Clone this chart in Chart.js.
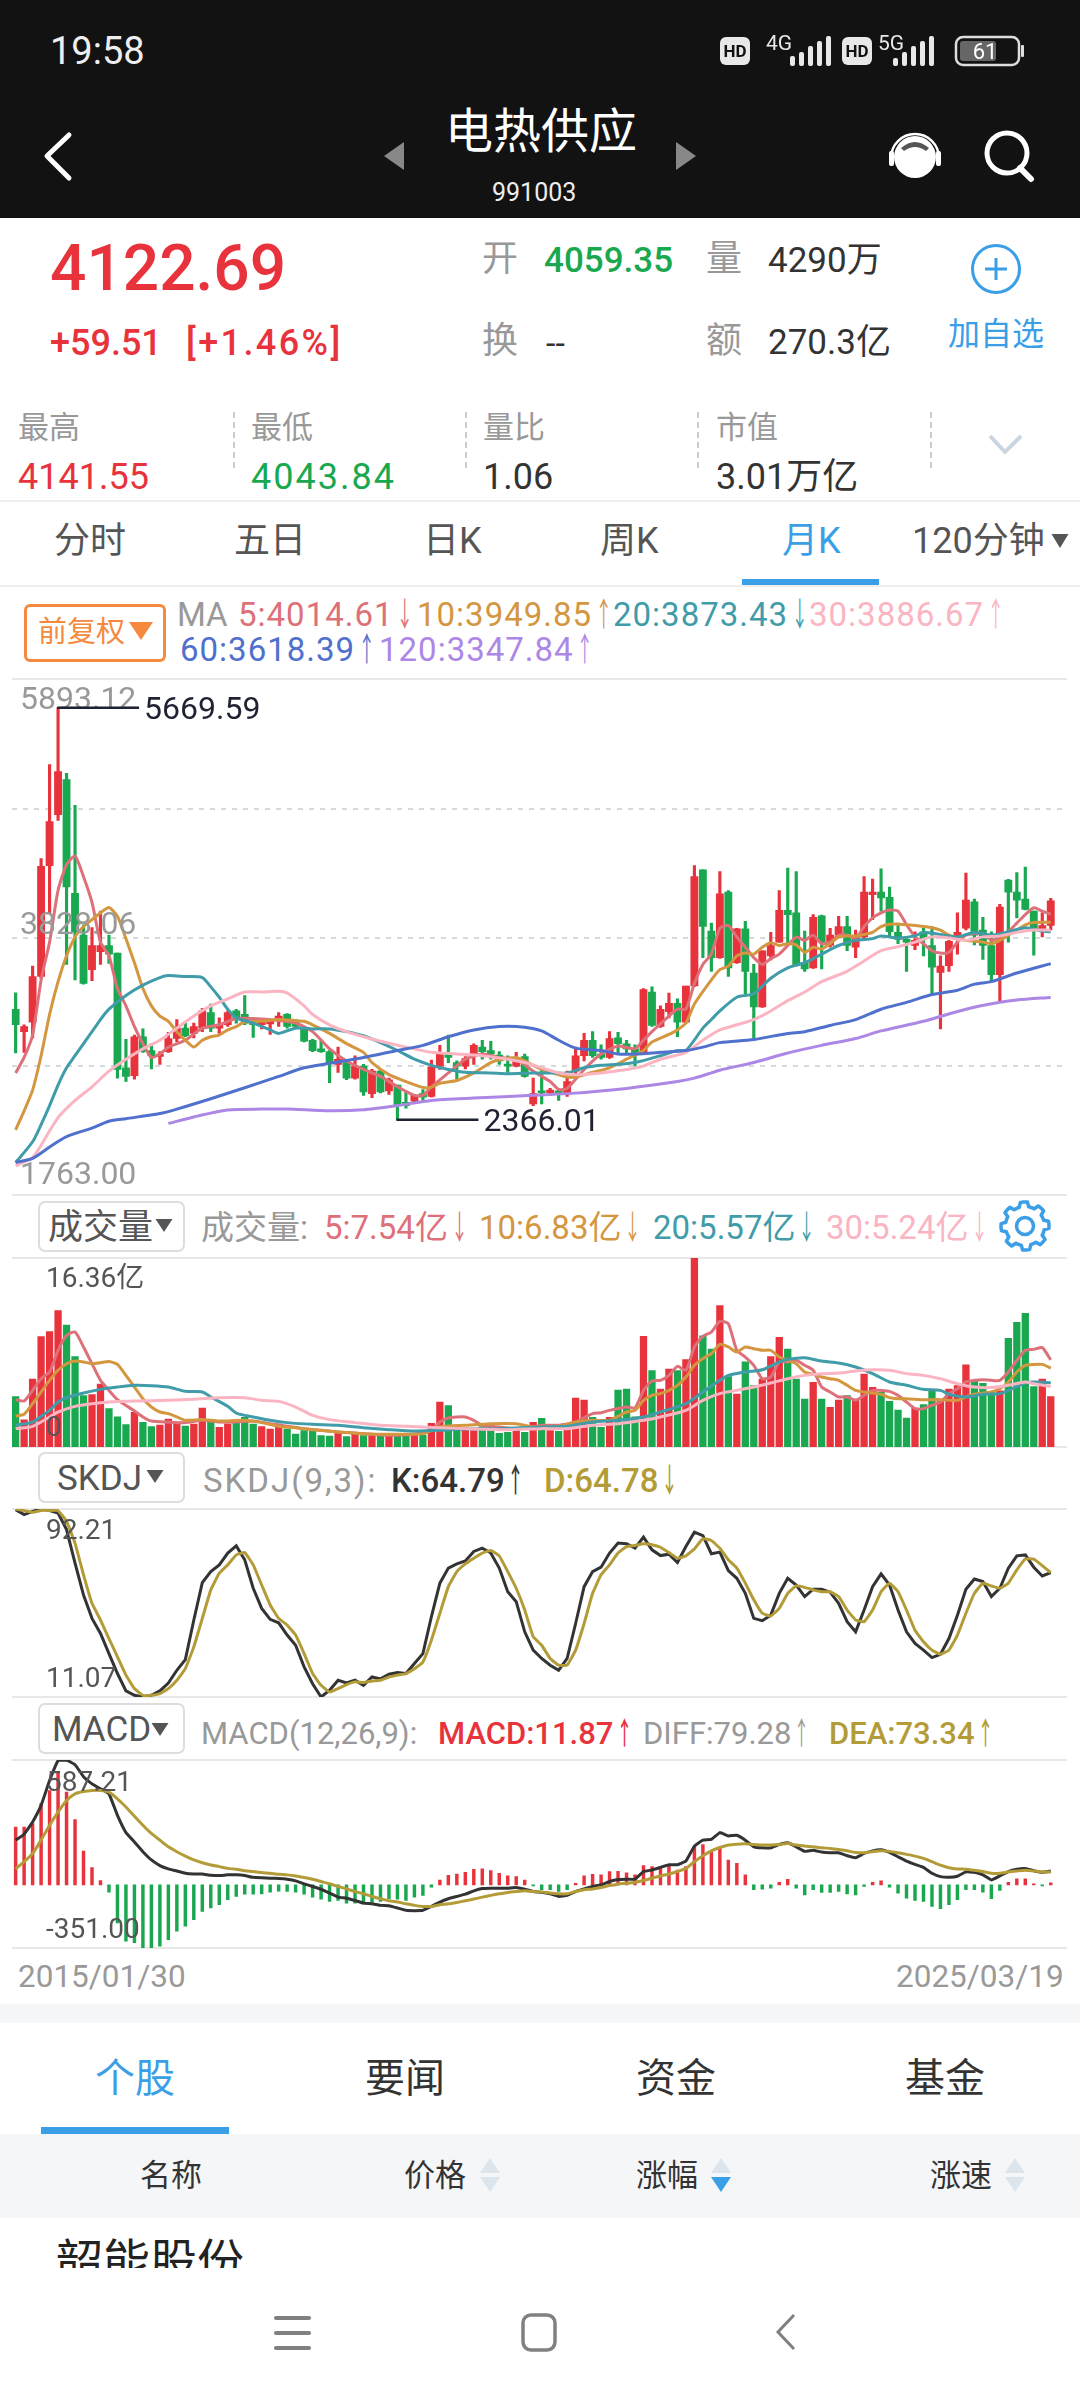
<!DOCTYPE html>
<html>
<head>
<meta charset="utf-8">
<title>电热供应</title>
<script src="https://cdn.jsdelivr.net/npm/chart.js@4"></script>
<style>
  html, body { margin: 0; padding: 0; background: #fff; }
  #page { position: relative; width: 1080px; height: 2400px; overflow: hidden; font-family: Roboto, "Noto Sans CJK SC", sans-serif; }
  #page div { position: absolute; white-space: nowrap; line-height: 1; }
  #page div span { display: inline-block; transform: scaleX(.5); margin: 0 -.16em; }
  canvas { position: absolute; left: 0; }
  svg { position: absolute; left: 0; top: 0; }
</style>
</head>
<body>
<div id="page"></div>
<script>
// meses del grafico, enero 2015 a marzo 2025
const months = [];
for (let y = 2015; y <= 2025; y++) {
  for (let m = 1; m <= 12; m++) {
    if (y === 2025 && m > 3) break;
    months.push(y + "/" + String(m).padStart(2, "0"));
  }
}

// velas
const opens = [3253,3073,3150,3515,4404,4813,5095,4183,3847,3570,
3714,3764,3703,2783,2719,3032,2921,2874,2913,3018,
3101,3059,3101,3225,3101,3128,3239,3211,3156,3128,
3134,3170,3211,3156,3101,3004,2935,2913,2811,2825,
2700,2797,2576,2756,2598,2645,2507,2515,2576,2554,
2797,2893,2825,2797,2885,2949,2921,2885,2811,2797,
2874,2493,2598,2581,2598,2581,2756,2880,3004,2893,
2866,3023,2976,2935,2907,3391,3114,3233,3300,3150,
3440,4371,3880,3667,4192,3626,3897,3543,3272,3681,
3791,4045,4026,3626,3584,4001,3764,3847,3916,3750,
3833,4172,4192,4150,3869,3813,3764,3874,3764,3548,
3603,3841,3902,4114,3888,3764,3529,4288,4192,4137,
4040,3888,3924];
const closes = [3128,3114,3515,4399,4758,5158,4233,3874,3460,3764,
3764,3695,2770,2714,3032,2913,2880,2893,3018,3101,
3040,3114,3239,3101,3128,3225,3170,3142,3128,3156,
3156,3197,3114,3114,2996,2921,2913,2825,2852,2700,
2797,2590,2756,2590,2687,2488,2480,2562,2548,2791,
2902,2866,2797,2858,2963,2913,2893,2838,2797,2866,
2714,2576,2581,2604,2581,2673,2880,3004,2880,2866,
3018,2976,2935,2907,3410,3123,3253,3300,3150,3438,
4316,3916,3667,4178,3584,3897,3557,3272,3722,3764,
4045,4012,3603,3576,3990,3791,3847,3916,3764,3833,
4192,4192,4145,3874,3813,3791,3805,3819,3590,3598,
3797,3869,4128,3847,3764,3529,4073,4192,4128,4054,
3888,3924,4122.69];
const highs = [3385,3128,3598,4460,5214,5669.59,5145,4888,3930,3907,
4040,3847,3703,3012,3046,3095,2976,2913,3068,3170,
3150,3142,3261,3294,3184,3239,3253,3363,3170,3170,
3170,3225,3217,3170,3114,3012,3004,2921,2949,2838,
2880,2811,2770,2764,2700,2645,2590,2570,2609,2846,
2963,3046,2838,2874,2976,3004,2996,2913,2880,2907,
2893,2700,2783,2618,2604,2756,2949,3059,3073,2968,
3073,3068,3004,2968,3418,3432,3280,3382,3336,3438,
4404,4371,3943,4357,4205,3902,3957,3612,3722,3869,
4205,4385,4357,3880,4012,4007,3902,3998,3998,3888,
4316,4297,4379,4233,3943,3819,3874,3902,3916,3681,
3805,4026,4344,4136,3990,3874,4095,4294,4349,4393,
4040,4026,4141.55];
const lows = [2902,2907,3023,3500,4026,4766,3612,3488,3454,3482,
3612,3620,2700,2673,2692,2907,2775,2811,2907,2990,
3032,3023,3073,3073,3059,3114,3142,3128,3026,3095,
3051,3114,3101,3101,2990,2913,2907,2664,2747,2687,
2692,2562,2543,2581,2570,2366.01,2460,2507,2521,2548,
2770,2825,2692,2775,2811,2852,2852,2811,2747,2791,
2708,2480,2493,2562,2521,2554,2714,2838,2866,2852,
2858,2893,2893,2797,2900,3114,3106,3184,3032,3142,
3435,3667,3557,3660,3515,3620,3377,3012,3268,3648,
3788,3764,3600,3557,3580,3576,3750,3833,3722,3667,
3819,3971,4040,3833,3778,3557,3731,3681,3377,3095,
3557,3695,3888,3769,3653,3474,3322,3791,3985,4050,
3686,3833,3888];

const ma5Idx = [0,1,2,3,4,5,6,7,8,9,10,11,12,13,14,15,16,17,18,20,22,24,26,28,31,33,35,37,39,41,43,45,47,48,49,51,53,55,57,59,61,63,64,65,67,69,71,73,74,75,77,78,79,80,81,82,83,84,85,86,87,88,89,90,91,92,93,94,95,96,97,98,99,100,101,102,103,104,105,106,107,108,109,110,111,112,113,114,115,116,117,118,119,120,121,122];
const ma5Vals = [2742,2866,3046,3488,3791,4206,4413,4482,4316,4109,3791,3681,3419,3280,3114,2977,2866,2894,2949,3004,3101,3128,3178,3178,3162,3142,3073,2935,2838,2770,2714,2631,2562,2562,2631,2742,2852,2894,2866,2852,2756,2673,2609,2618,2770,2894,2957,2935,3004,3073,3198,3253,3253,3460,3612,3695,3902,3924,3833,3750,3667,3612,3659,3695,3764,3833,3805,3847,3778,3791,3847,3847,3819,3916,3985,4026,4048,4040,3930,3833,3778,3722,3703,3709,3791,3847,3860,3860,3805,3833,3874,3943,4012,4067,4040,4014.61];
const ma10Idx = [0,1,2,3,4,5,6,7,8,9,10,11,12,13,14,15,16,17,18,19,20,21,22,23,24,25,26,27,29,31,33,34,35,37,39,41,42,44,46,48,49,50,52,54,56,57,59,60,62,64,65,66,68,70,72,74,75,77,78,79,80,82,83,84,85,86,87,88,89,90,91,92,93,94,95,96,97,98,99,100,101,102,103,105,107,108,109,110,112,114,115,116,117,118,119,120,122];
const ma10Vals = [2286,2438,2604,2880,3211,3474,3681,3833,3916,3971,4026,4068,3998,3819,3626,3419,3280,3198,3156,3073,3004,2949,3004,3032,3046,3087,3114,3150,3156,3170,3162,3156,3128,3059,2977,2907,2825,2728,2673,2626,2626,2659,2681,2742,2825,2847,2866,2838,2770,2728,2709,2709,2747,2783,2852,2922,2990,3051,3087,3142,3294,3488,3570,3598,3681,3703,3695,3750,3786,3764,3778,3769,3709,3750,3736,3778,3833,3841,3841,3852,3869,3916,3935,3930,3916,3907,3888,3847,3805,3791,3778,3805,3847,3888,3930,3949,3949.85];
const ma20Idx = [0,2,3,4,5,6,7,8,9,10,11,13,15,17,18,20,22,23,24,25,26,28,30,31,33,35,37,39,41,43,45,47,49,51,53,56,58,61,63,65,67,69,71,73,76,78,79,81,82,83,85,87,89,91,93,95,97,99,101,102,104,106,107,109,111,113,115,117,119,121,122];
const ma20Vals = [2024,2190,2328,2480,2645,2783,2880,2977,3073,3170,3253,3363,3446,3507,3523,3515,3507,3432,3349,3253,3184,3142,3087,3059,3101,3095,3095,3073,3040,2985,2922,2852,2803,2770,2747,2742,2736,2742,2742,2742,2783,2803,2811,2825,2880,2922,2922,3101,3170,3239,3349,3377,3501,3584,3626,3695,3764,3805,3819,3841,3825,3841,3869,3852,3833,3869,3847,3874,3907,3880,3873.43];
const ma30Idx = [0,2,3,5,7,9,11,13,15,17,19,21,23,25,27,29,31,32,34,35,37,39,41,43,46,49,52,55,58,60,62,64,66,69,72,74,76,79,81,83,85,87,89,91,93,95,98,100,102,104,106,108,110,112,114,116,118,120,122];
const ma30Vals = [1996,2065,2162,2383,2521,2631,2756,2852,2935,3004,3101,3198,3280,3336,3391,3391,3397,3383,3280,3211,3128,3073,3032,2996,2949,2907,2894,2880,2852,2825,2783,2742,2728,2742,2770,2797,2852,2907,3004,3087,3128,3170,3239,3322,3391,3474,3557,3640,3722,3755,3791,3833,3825,3805,3833,3841,3869,3888,3886.67];
const ma60Idx = [0,2,4,6,9,11,13,17,19,23,27,31,34,37,41,45,48,51,54,57,60,62,64,66,69,71,73,76,79,81,83,87,91,93,96,99,102,105,108,111,113,115,118,122];
const ma60Vals = [2024,2057,2148,2231,2300,2355,2375,2416,2452,2535,2623,2714,2783,2819,2866,2922,2963,3032,3087,3114,3109,3079,3004,2941,2922,2894,2894,2907,2922,2949,2985,3010,3059,3073,3123,3170,3253,3308,3371,3405,3454,3474,3543,3618.39];
const ma120Idx = [18,21,25,29,32,37,41,45,49,54,61,65,72,78,80,83,87,91,95,99,102,107,112,116,118,122];
const ma120Vals = [2336,2389,2444,2452,2452,2438,2446,2480,2521,2540,2562,2576,2618,2673,2700,2764,2825,2902,2963,3018,3079,3156,3253,3308,3327,3347.84];

// volumen en 亿
const volumes = [4.39,2.37,5.91,9.58,10.01,11.83,10.59,7.85,4.47,4.56,
5.48,3.35,2.65,1.96,3.03,2.16,1.79,1.93,2.45,2.16,
1.85,2.02,3.40,2.16,1.73,2.02,2.08,2.60,2.02,1.79,
1.59,2.02,1.59,1.15,1.44,1.38,1.01,0.98,1.30,0.92,
1.15,1.01,1.07,1.01,0.98,1.15,1.01,1.07,1.07,2.08,
3.92,3.61,1.59,1.67,1.44,1.79,1.88,1.21,1.30,1.59,
1.30,2.16,2.51,1.44,1.38,1.50,4.27,4.10,2.60,1.73,
2.60,4.96,5.05,2.65,9.61,6.64,5.05,6.78,6.64,7.59,
16.36,9.66,8.51,12.26,6.12,4.62,7.41,5.34,5.91,7.85,
9.52,8.51,5.91,4.18,5.63,4.18,3.46,4.10,4.47,4.18,
6.35,5.19,4.76,3.98,3.23,2.54,3.40,3.69,4.90,4.04,
5.05,5.34,7.15,5.77,5.54,4.76,4.90,9.43,10.82,11.60,
5.25,5.91,4.39];
const volMa5Idx = [0,1,2,3,4,5,6,7,8,9,10,11,12,14,15,16,18,20,22,24,26,28,30,32,34,36,38,40,42,44,46,48,49,50,51,52,53,54,55,57,59,61,62,64,66,67,68,69,70,72,73,74,75,76,77,78,79,80,81,82,83,84,85,86,87,88,89,90,91,92,93,94,95,96,97,98,99,100,101,102,103,104,105,106,107,108,109,110,111,112,113,114,115,116,117,118,119,120,121,122];
const volMa5Vals = [4.10,3.98,4.90,5.91,6.49,8.37,9.66,9.95,8.66,7.21,5.77,4.90,4.10,3.12,2.60,2.25,2.16,2.11,2.31,2.16,2.16,2.25,2.02,1.79,1.59,1.44,1.30,1.21,1.10,1.01,1.07,1.21,1.44,2.16,2.51,2.60,2.60,2.31,1.88,1.73,1.59,1.73,1.88,1.88,2.16,2.54,2.89,2.97,3.17,3.46,3.40,4.90,5.71,5.77,6.20,6.98,6.64,8.66,9.58,9.95,10.88,10.67,8.37,7.79,7.07,5.91,6.06,7.36,7.36,7.50,7.07,6.64,5.19,4.76,4.33,4.33,4.04,4.47,4.90,4.90,4.82,4.47,3.89,3.32,3.32,3.61,3.89,4.62,5.05,5.63,5.77,5.83,5.77,5.77,6.49,7.50,8.37,8.45,8.60,7.54];
const volMa10Idx = [0,1,2,3,4,5,6,7,8,9,10,11,12,13,14,15,16,17,18,19,20,22,24,27,29,31,33,35,38,41,44,48,50,53,56,59,61,64,66,68,70,72,73,74,75,76,77,78,79,80,81,82,83,84,85,86,87,88,89,90,91,92,93,94,95,96,97,98,99,100,101,102,103,104,105,107,109,111,112,113,115,116,117,118,119,120,121,122];
const volMa10Vals = [2.68,2.83,3.75,4.76,5.77,6.64,7.21,7.44,7.36,7.21,7.30,7.41,7.15,6.20,5.19,4.18,3.46,3.03,2.89,2.60,2.31,2.37,2.25,2.31,2.11,1.79,1.67,1.50,1.30,1.15,1.10,1.15,1.73,1.88,2.02,2.02,1.73,1.79,2.16,2.31,2.31,3.03,3.17,4.04,4.47,4.62,4.90,5.34,6.06,7.07,7.65,8.08,8.89,8.66,8.22,8.66,8.51,8.37,8.37,7.79,7.50,7.21,6.49,6.29,6.06,5.91,5.77,5.34,4.90,4.76,4.67,4.56,4.27,4.18,4.18,4.10,4.10,4.04,4.33,4.56,4.76,5.05,5.63,6.49,7.07,7.15,7.15,6.83];
const volMa20Idx = [0,2,3,4,5,6,8,10,12,14,16,18,20,22,23,25,26,28,30,32,35,38,41,44,47,50,53,57,62,65,68,71,74,76,79,81,83,84,86,88,90,91,93,95,97,99,101,103,105,107,109,110,112,114,116,117,119,120,122];
const volMa20Vals = [1.88,2.16,2.65,3.17,3.89,4.27,4.67,4.99,5.19,5.34,5.31,5.19,4.82,4.76,4.33,3.52,2.94,2.60,2.31,2.11,1.96,1.88,1.67,1.50,1.38,1.44,1.56,1.59,1.73,1.79,2.16,2.31,2.60,3.03,3.75,4.76,5.77,6.20,6.49,6.69,7.36,7.59,7.73,7.44,7.27,6.92,6.35,5.63,5.34,4.99,4.90,4.56,4.33,4.56,4.62,4.90,5.54,5.63,5.57];
const volMa30Idx = [0,2,4,5,7,9,11,14,18,21,24,27,29,31,33,35,37,40,43,46,50,54,58,62,65,68,71,74,76,79,81,83,85,87,89,91,93,95,97,99,101,103,105,107,109,111,113,115,117,119,120,122];
const volMa30Vals = [1.59,1.79,2.60,3.03,3.52,3.75,3.89,3.98,4.04,4.13,4.27,4.27,4.04,3.95,3.46,2.74,2.37,2.11,1.88,1.79,1.67,1.56,1.50,1.59,1.59,1.88,2.02,2.31,2.60,3.17,4.04,4.62,4.90,5.19,5.54,5.91,6.20,6.35,6.40,6.58,6.69,6.64,6.35,6.20,5.91,5.48,5.19,5.14,5.34,5.63,5.48,5.24];

// SKDJ
const kVals = [91.9,89.8,91.2,92.2,91.5,90.5,83.3,68.8,55.1,45.0,38.5,29.8,21.2,13.7,11.8,11.07,11.8,13.7,17.1,22.6,27.2,44.3,60.4,65.2,68.1,73.2,76.3,70.3,58.0,49.3,44.6,43.1,37.8,33.4,24.1,16.8,11.07,14.0,18.3,17.1,18.3,16.1,19.7,18.9,20.9,21.6,21.2,25.5,29.8,45.7,60.2,66.7,68.5,69.8,73.9,75.3,73.2,66.7,56.5,52.2,39.2,31.3,27.7,24.8,22.6,27.7,42.8,58.7,65.2,67.1,73.2,77.5,77.2,75.3,80.1,74.6,72.1,72.7,69.1,76.0,82.2,80.7,72.9,73.6,65.6,62.3,55.8,45.0,44.0,46.4,55.8,62.3,59.4,54.4,57.6,57.6,56.3,51.5,43.6,39.2,48.6,58.7,64.2,59.4,48.6,39.2,34.2,31.3,28.1,29.5,36.3,46.4,57.6,62.0,60.9,54.4,58.0,66.7,72.0,72.4,67.1,63.3,64.79];
const dVals = [92.2,91.5,90.8,91.6,91.6,91.5,86.9,77.5,63.8,51.5,44.3,36.3,28.4,20.5,14.7,11.8,11.8,12.5,14.7,18.3,23.3,32.7,45.0,57.3,64.5,68.1,72.4,73.4,68.1,59.4,50.8,45.0,42.1,37.8,29.8,21.2,16.1,13.2,14.7,16.4,17.6,17.3,18.0,18.3,19.7,20.5,21.2,23.3,26.2,35.6,47.2,58.7,65.2,68.5,71.0,73.2,74.3,72.0,65.2,58.0,48.6,37.1,33.4,27.7,24.8,24.8,31.3,42.8,55.8,63.8,68.1,73.2,76.0,76.5,77.2,76.8,75.7,73.4,71.0,72.0,75.0,79.4,78.6,75.3,70.3,66.7,60.2,53.0,47.2,46.0,49.3,55.8,59.0,58.4,57.3,56.5,56.5,54.4,48.6,44.3,43.6,48.6,56.5,60.2,56.5,48.6,39.9,34.9,31.3,29.5,31.3,37.8,47.2,55.8,60.2,59.0,58.0,60.2,65.9,70.6,70.6,67.8,64.78];

// MACD
const macdHist = [330,330,349,463,538,642,529,372,193,98,25,-42,-217,-321,-330,-359,-359,-349,-312,-264,-236,-198,-151,-132,-113,-85,-66,-53,-53,-51,-42,-36,-38,-42,-53,-70,-81,-94,-89,-104,-104,-108,-100,-94,-79,-81,-89,-70,-60,-13,28,55,62,72,89,91,81,66,51,47,28,-3,-28,-28,-38,-28,9,51,60,57,76,77,68,57,110,104,104,110,85,104,217,230,189,217,142,123,57,-28,-25,-19,15,32,-19,-57,-28,-43,-43,-38,-51,-57,-9,15,23,-13,-47,-76,-89,-94,-123,-136,-113,-85,-28,-28,-42,-79,-32,15,34,34,2,-6,11.87];
const diffVals = [255,289,359,453,595,708,712,685,617,576,548,519,396,298,245,189,142,110,91,79,66,62,62,55,53,57,57,53,43,40,38,36,32,23,6,-9,-25,-47,-70,-76,-89,-104,-108,-117,-119,-132,-145,-147,-145,-123,-98,-79,-66,-53,-34,-21,-19,-19,-19,-15,-25,-38,-42,-51,-66,-60,-38,-23,-9,0,19,30,32,32,76,85,100,115,115,136,221,255,259,298,279,283,255,217,211,211,230,240,217,191,198,187,183,183,166,155,179,194,200,185,160,136,117,100,66,47,43,49,74,72,57,28,51,76,89,93,81,72,79.28];
const deaVals = [91,132,179,255,340,415,481,519,532,538,538,529,491,444,391,340,293,255,217,189,164,142,126,113,104,94,89,81,76,70,66,60,57,51,42,32,19,6,-9,-23,-38,-51,-66,-79,-91,-98,-108,-117,-123,-123,-113,-108,-100,-91,-81,-70,-60,-51,-43,-38,-34,-38,-40,-47,-51,-51,-38,-28,-23,-15,-4,4,9,15,25,38,51,62,76,94,132,166,194,213,227,232,234,230,227,227,230,236,227,221,217,211,208,202,194,185,183,189,194,191,183,174,164,151,132,113,98,91,89,83,76,66,66,74,79,83,79,74,73.34];

// rotulos de los ejes
const priceTicks = ["5893.12", "3828.06", "1763.00"];
const volTicks = ["16.36亿", "0"];
const skdjTicks = ["92.21", "11.07"];
const macdTicks = ["587.21", "-351.00"];
const priceMax = 5893.12, priceMin = 1763;

const RED = "#e8323c", GREEN = "#19a850", BLUE = "#3a9fe6", GOLD = "#b39c38";
const C5 = "#dd7078", C10 = "#d4963f", C20 = "#3f9ca8", C30 = "#fbb4c1", C60 = "#4f70cc", C120 = "#ad87e6";
const FONT = 'Roboto, "Noto Sans CJK SC", sans-serif';

const page = document.getElementById("page");

function txt(x, y, s, size, color, extra) {
  const d = document.createElement("div");
  // las flechas son mas angostas que en la fuente
  d.innerHTML = s.replace(/[↓↑]/g, (a) => "<span>" + a + "</span>");
  d.style.cssText = `left:${x}px;top:${y}px;font-size:${size}px;color:${color};transform:translateY(-50%);` + (extra || "");
  page.appendChild(d);
  return d;
}
function box(x, y, w, h, color, extra) {
  const d = document.createElement("div");
  d.style.cssText = `left:${x}px;top:${y}px;width:${w}px;height:${h}px;background:${color};` + (extra || "");
  page.appendChild(d);
  return d;
}

// cabecera
box(0, 0, 1080, 218, "#121212");
txt(50, 51, "19:58", 38, "#eee");
txt(445, 132, "电热供应", 48, "#fff");
txt(492, 192, "991003", 25, "#eee");
txt(50, 269, "4122.69", 64, RED, "font-weight:500;");
txt(50, 343, "+59.51", 36, RED, "font-weight:500;");
txt(186, 343, "[+1.46%]", 36, RED, "font-weight:500;letter-spacing:2.4px;");
txt(482, 259, "开", 36, "#999");
txt(544, 260, "4059.35", 35, GREEN, "font-weight:500;");
txt(706, 259, "量", 36, "#999");
txt(768, 260, "4290万", 35, "#333");
txt(482, 341, "换", 36, "#999");
txt(546, 343, "--", 34, "#333");
txt(706, 341, "额", 36, "#999");
txt(768, 342, "270.3亿", 35, "#333");
txt(948, 334, "加自选", 32, BLUE);
[["最高", 18, "4141.55", RED, 0], ["最低", 251, "4043.84", GREEN, 2], ["量比", 483, "1.06", "#333", 0], ["市值", 716, "3.01万亿", "#333", 0]].forEach((c) => {
  txt(c[1], 427, c[0], 31, "#999");
  txt(c[1], 477, c[2], 36, c[3], "letter-spacing:" + c[4] + "px;");
});
[233, 465, 697, 930].forEach((x) => box(x, 412, 0, 56, "transparent", "border-left:2px dashed #ccc;"));
box(0, 500, 1080, 2, "#eee");
[["分时", 54], ["五日", 234], ["日K", 423], ["周K", 600], ["120分钟", 912]].forEach((c) => txt(c[1], 541, c[0], 36, "#555"));
txt(782, 541, "月K", 36, BLUE);
box(742, 579, 137, 6, BLUE);
box(0, 585, 1080, 2, "#eee");

// leyenda MA
const LEGEND = "letter-spacing:1px;";
box(24, 604, 136, 52, "#fff", "border:3px solid #f5893d;border-radius:6px;");
txt(38, 632, "前复权", 29, "#f5893d");
txt(177, 614, "MA", 33, "#999");
txt(238, 614, "5:4014.61↓", 33, C5, LEGEND);
txt(417, 614, "10:3949.85↑", 33, C10, LEGEND);
txt(613, 614, "20:3873.43↓", 33, C20, LEGEND);
txt(809, 614, "30:3886.67↑", 33, C30, LEGEND);
txt(180, 649, "60:3618.39↑", 33, C60, LEGEND);
txt(379, 649, "120:3347.84↑", 33, C120, LEGEND);

// separadores
[679, 1195, 1258, 1447, 1509, 1697, 1760, 1948].forEach((y) => box(12, y - 1, 1055, 2, "#e8e8e8"));

// filas de indicadores
function selector(y, label, tx) {
  box(38, y, 143, 47, "#fff", "border:2.5px solid #ddd;border-radius:7px;");
  txt(tx, y + 26, label, 35, "#555");
}
selector(1201, "成交量", 48);
txt(201, 1227, "成交量:", 33, "#999");
txt(324, 1227, "5:7.54亿↓", 33, C5);
txt(479, 1227, "10:6.83亿↓", 33, C10);
txt(653, 1227, "20:5.57亿↓", 33, C20);
txt(826, 1227, "30:5.24亿↓", 33, C30);
selector(1452, "SKDJ", 57);
txt(203, 1480, "SKDJ(9,3):", 33, "#999", "letter-spacing:2px;");
txt(391, 1480, "K:64.79↑", 33, "#333", "font-weight:500;");
txt(544, 1480, "D:64.78↓", 33, GOLD, "font-weight:500;");
selector(1703, "MACD", 52);
txt(201, 1733, "MACD(12,26,9):", 31, "#999");
txt(438, 1733, "MACD:11.87↑", 31, RED, "font-weight:500;");
txt(643, 1733, "DIFF:79.28↑", 31, "#999");
txt(829, 1733, "DEA:73.34↑", 31, GOLD, "font-weight:500;");
txt(18, 1977, "2015/01/30", 31.5, "#999");
txt(896, 1977, "2025/03/19", 31.5, "#999");

// parte de abajo
box(0, 2004, 1080, 19, "#f5f6f7");
txt(95, 2079, "个股", 40, BLUE);
txt(365, 2079, "要闻", 40, "#333");
txt(636, 2079, "资金", 40, "#333");
txt(905, 2079, "基金", 40, "#333");
box(0, 2134, 1080, 84, "#f5f6f7");
box(41, 2127, 188, 7, BLUE);
[["名称", 140], ["价格", 404], ["涨幅", 636], ["涨速", 930]].forEach((c) => txt(c[1], 2175, c[0], 31, "#333"));
const clip = box(56, 2238, 220, 30, "#fff", "overflow:hidden;");
const stock = document.createElement("div");
stock.textContent = "韶能股份";
stock.style.cssText = "left:0;top:0;font-size:47px;color:#222;";
clip.appendChild(stock);

// iconos
function triangle(cx, top, w, h, fill, up) {
  const y2 = up ? top + h : top;
  const y1 = up ? top : top + h;
  return `<polygon points="${cx},${y1} ${cx - w / 2},${y2} ${cx + w / 2},${y2}" fill="${fill}"/>`;
}
function signal(x0, bars) {
  let s = "";
  bars.forEach((h, n) => { s += `<rect x="${x0 + n * 9}" y="${66 - h}" width="5" height="${h}" rx="2" fill="#e8e8e8"/>`; });
  return s;
}
let gearPts = "";
for (let n = 0; n < 64; n++) {
  const a = (n / 64) * Math.PI * 2;
  const r = (n + 2) % 8 < 4 ? 24 : 19.5;
  gearPts += (1025 + r * Math.cos(a)).toFixed(1) + "," + (1226 + r * Math.sin(a)).toFixed(1) + " ";
}
const icons = `
<svg width="1080" height="2400" style="z-index:5;">
  <rect x="720" y="37" width="30" height="28" rx="6" fill="#e8e8e8"/>
  <text x="735" y="57" font-family="Roboto" font-weight="700" font-size="17" fill="#121212" text-anchor="middle">HD</text>
  <text x="766" y="50" font-family="Roboto" font-size="21" fill="#e8e8e8">4G</text>
  ${signal(790, [10, 14, 20, 25, 30])}
  <rect x="842" y="37" width="30" height="28" rx="6" fill="#e8e8e8"/>
  <text x="857" y="57" font-family="Roboto" font-weight="700" font-size="17" fill="#121212" text-anchor="middle">HD</text>
  <text x="878" y="50" font-family="Roboto" font-size="21" fill="#e8e8e8">5G</text>
  ${signal(893, [8, 14, 20, 25, 30])}
  <rect x="956" y="37" width="63" height="28" rx="7" fill="none" stroke="#ddd" stroke-width="2.5"/>
  <rect x="960" y="41" width="36" height="20" rx="3" fill="#666"/>
  <rect x="1021" y="45" width="3" height="12" rx="1" fill="#ddd"/>
  <text x="985" y="59" font-family="Roboto" font-size="22" fill="#fff" text-anchor="middle">61</text>
  <polyline points="69,135 47,156 69,178" fill="none" stroke="#fff" stroke-width="5" stroke-linecap="round" stroke-linejoin="round"/>
  <polygon points="404,142 404,170 384,156" fill="#888"/>
  <polygon points="676,142 676,170 696,156" fill="#888"/>
  <circle cx="915" cy="157" r="21" fill="#fff"/>
  <path d="M901 148 Q915 136 929 148 L926 151 Q915 143 904 151 Z" fill="#555"/>
  <path d="M891 158 A24 24 0 0 1 939 158" fill="none" stroke="#fff" stroke-width="2.5"/>
  <rect x="889" y="151" width="5" height="15" rx="2" fill="#fff"/>
  <rect x="936" y="151" width="5" height="15" rx="2" fill="#fff"/>
  <circle cx="1007" cy="153" r="20" fill="none" stroke="#fff" stroke-width="5"/>
  <line x1="1020" y1="168" x2="1031" y2="179" stroke="#fff" stroke-width="6" stroke-linecap="round"/>
  <circle cx="996" cy="269" r="23.5" fill="none" stroke="${BLUE}" stroke-width="3"/>
  <line x1="985" y1="269" x2="1007" y2="269" stroke="${BLUE}" stroke-width="3"/>
  <line x1="996" y1="258" x2="996" y2="280" stroke="${BLUE}" stroke-width="3"/>
  <polyline points="990,436 1005,452 1021,436" fill="none" stroke="#cbd5df" stroke-width="4"/>
  ${triangle(1060, 534, 17, 14, "#555", false)}
  ${triangle(141, 622, 24, 18, "#f5893d", false)}
  ${triangle(164, 1219, 17, 13, "#555", false)}
  ${triangle(155, 1470, 17, 13, "#555", false)}
  ${triangle(160, 1723, 17, 13, "#555", false)}
  <polygon points="${gearPts}" fill="none" stroke="${BLUE}" stroke-width="3.5" stroke-linejoin="round"/>
  <circle cx="1025" cy="1226" r="8.5" fill="none" stroke="${BLUE}" stroke-width="3.5"/>
  ${triangle(490, 2158, 20, 15, "#dde5ec", true)}${triangle(490, 2177, 20, 15, "#dde5ec", false)}
  ${triangle(721, 2158, 20, 15, "#dde5ec", true)}${triangle(721, 2177, 20, 15, BLUE, false)}
  ${triangle(1015, 2158, 20, 15, "#dde5ec", true)}${triangle(1015, 2177, 20, 15, "#dde5ec", false)}
  <rect x="274" y="2316" width="37" height="4" rx="2" fill="#808080"/>
  <rect x="274" y="2331" width="37" height="4" rx="2" fill="#808080"/>
  <rect x="274" y="2346" width="37" height="4" rx="2" fill="#808080"/>
  <rect x="523" y="2315" width="32" height="35" rx="8" fill="none" stroke="#808080" stroke-width="3.5"/>
  <polyline points="794,2315 778,2332 794,2349" fill="none" stroke="#808080" stroke-width="3"/>
</svg>`;
page.insertAdjacentHTML("beforeend", icons);

// arma una serie con huecos a partir de los meses leidos
function sparse(idx, vals) {
  const a = new Array(months.length).fill(null);
  idx.forEach((k, n) => { a[k] = vals[n]; });
  return a;
}
function lineDs(data, color, tension) {
  return { type: "line", data, borderColor: color, borderWidth: 3, pointRadius: 0, spanGaps: true, tension: tension, order: 1, clip: false };
}

// plugin: rejilla punteada, rotulos del eje y marcas de maximo y minimo
const panelText = {
  id: "panelText",
  beforeDatasetsDraw(chart, args, opts) {
    const ctx = chart.ctx, y = chart.scales.y;
    ctx.save();
    ctx.strokeStyle = "#d5dadd";
    ctx.lineWidth = 2;
    ctx.setLineDash([5, 6]);
    (opts.grid || []).forEach((v) => {
      const py = Math.round(y.getPixelForValue(v));
      ctx.beginPath();
      ctx.moveTo(12, py);
      ctx.lineTo(1065, py);
      ctx.stroke();
    });
    ctx.restore();
  },
  afterDatasetsDraw(chart, args, opts) {
    const ctx = chart.ctx, x = chart.scales.x, y = chart.scales.y;
    ctx.save();
    ctx.textBaseline = "middle";
    ctx.font = opts.font + " " + FONT;
    ctx.fillStyle = opts.color;
    (opts.labels || []).forEach((l) => ctx.fillText(l.text, opts.x, y.getPixelForValue(l.value) + l.dy));
    (opts.tags || []).forEach((t) => {
      const px = x.getPixelForValue(t.index), py = y.getPixelForValue(t.value);
      ctx.strokeStyle = "#1f2233";
      ctx.fillStyle = "#1f2233";
      ctx.lineWidth = 2.5;
      ctx.beginPath();
      ctx.moveTo(px - 1, py);
      ctx.lineTo(px + 81, py);
      ctx.stroke();
      ctx.fillText(t.text, px + 86, py + 3);
    });
    ctx.restore();
  },
};

function panel(top, height, yMin, yMax, datasets, text) {
  const c = document.createElement("canvas");
  c.width = 1080;
  c.height = height;
  c.style.top = top + "px";
  c.style.width = "1080px";
  c.style.height = height + "px";
  page.appendChild(c);
  return new Chart(c, {
    type: "bar",
    data: { labels: months, datasets },
    plugins: [panelText],
    options: {
      responsive: false,
      animation: false,
      devicePixelRatio: 1,
      events: [],
      layout: { padding: { left: 11.4, right: 25, top: 0, bottom: 0 } },
      scales: {
        x: { display: false, offset: true, grid: { display: false } },
        y: { display: false, min: yMin, max: yMax },
      },
      plugins: { legend: { display: false }, tooltip: { enabled: false }, panelText: text },
    },
  });
}

const upDown = closes.map((c, i) => (c >= opens[i] ? RED : GREEN));

// grafico principal
panel(680, 515, priceMin, priceMax, [
  lineDs(sparse(ma120Idx, ma120Vals), C120, 0.25),
  lineDs(sparse(ma60Idx, ma60Vals), C60, 0.25),
  lineDs(sparse(ma30Idx, ma30Vals), C30, 0.25),
  lineDs(sparse(ma20Idx, ma20Vals), C20, 0.25),
  lineDs(sparse(ma10Idx, ma10Vals), C10, 0.2),
  lineDs(sparse(ma5Idx, ma5Vals), C5, 0.2),
  { data: opens.map((o, i) => [o, closes[i]]), backgroundColor: upDown, barThickness: 7.2, minBarLength: 2, grouped: false, order: 2 },
  { data: lows.map((l, i) => [l, highs[i]]), backgroundColor: upDown, barThickness: 2.5, grouped: false, order: 3 },
], {
  grid: [4860.59, 3828.06, 2795.53],
  font: "32px",
  color: "#999",
  x: 20,
  labels: [
    { text: priceTicks[0], value: priceMax, dy: 21 },
    { text: priceTicks[1], value: 3828.06, dy: -12 },
    { text: priceTicks[2], value: priceMin, dy: -19 },
  ],
  tags: [
    { index: 5, value: 5669.59, text: "5669.59" },
    { index: 45, value: 2366.01, text: "2366.01" },
  ],
});

// volumen
panel(1258, 189, 0, 16.36, [
  lineDs(sparse(volMa30Idx, volMa30Vals), C30, 0.25),
  lineDs(sparse(volMa20Idx, volMa20Vals), C20, 0.25),
  lineDs(sparse(volMa10Idx, volMa10Vals), C10, 0.2),
  lineDs(sparse(volMa5Idx, volMa5Vals), C5, 0.2),
  { data: volumes, backgroundColor: upDown, barPercentage: 0.86, categoryPercentage: 1, order: 2 },
], {
  font: "28px",
  color: "#555",
  x: 46,
  labels: [
    { text: volTicks[0], value: 16.36, dy: 22 },
    { text: volTicks[1], value: 0, dy: -18 },
  ],
});

// SKDJ
panel(1509, 188, 11.07, 92.21, [
  lineDs(dVals, GOLD, 0.1),
  lineDs(kVals, "#333", 0),
], {
  font: "28px",
  color: "#555",
  x: 46,
  labels: [
    { text: skdjTicks[0], value: 92.21, dy: 23 },
    { text: skdjTicks[1], value: 11.07, dy: -17 },
  ],
});

// MACD
panel(1760, 188, -360, 712, [
  lineDs(deaVals, GOLD, 0.2),
  lineDs(diffVals, "#333", 0.1),
  { data: macdHist, backgroundColor: macdHist.map((v) => (v >= 0 ? RED : GREEN)), barThickness: 2.8, minBarLength: 1, order: 2 },
], {
  font: "28px",
  color: "#555",
  x: 46,
  labels: [
    { text: macdTicks[0], value: 587.21, dy: 2 },
    { text: macdTicks[1], value: -351, dy: -15 },
  ],
});
</script>
</body>
</html>
